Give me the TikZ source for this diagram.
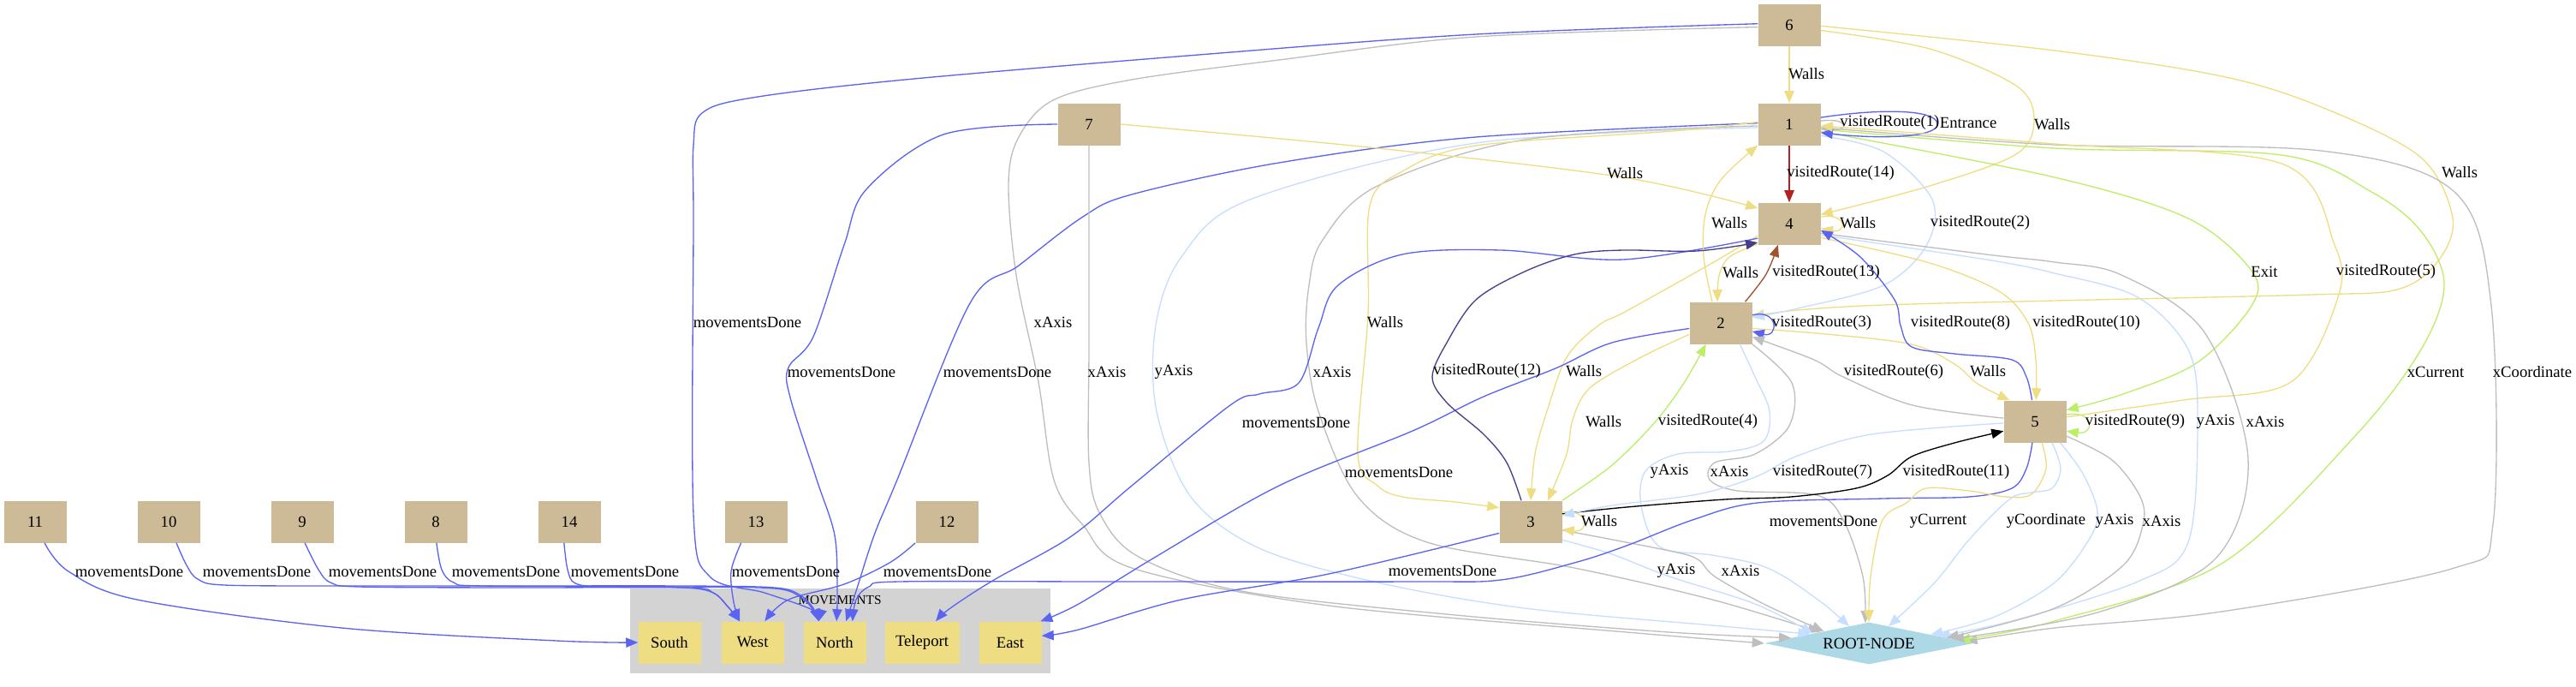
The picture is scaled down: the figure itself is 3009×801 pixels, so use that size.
\documentclass[tikz,border=0pt]{standalone}
\usepackage{fontspec}
\setmainfont{Liberation Serif}
\usetikzlibrary{arrows.meta,shapes.geometric}
\definecolor{tanN}{RGB}{205,187,151}
\definecolor{khakiN}{RGB}{238,221,130}
\definecolor{blueC}{RGB}{90,100,240}
\definecolor{greyC}{RGB}{190,190,190}
\definecolor{lblueC}{RGB}{198,222,255}
\definecolor{greenC}{RGB}{188,238,104}
\definecolor{dsbC}{RGB}{72,61,139}
\definecolor{siennaC}{RGB}{160,82,45}
\definecolor{fireC}{RGB}{178,34,34}
\definecolor{rootC}{RGB}{173,216,230}
\definecolor{clusterC}{RGB}{211,211,211}
\tikzset{
  posn/.style={fill=tanN, minimum width=54.75pt, minimum height=36.75pt, inner sep=0pt},
  mv/.style={fill=khakiN, minimum width=54.75pt, minimum height=36.75pt, inner sep=0pt},
  lbl/.style={inner sep=0pt},
  edg/.style={line width=1pt, -{Triangle[length=10.5pt,width=8.5pt]}},
  eW/.style={edg, color=khakiN},
  eB/.style={edg, color=blueC},
  eGy/.style={edg, color=greyC},
  eLb/.style={edg, color=lblueC},
  eGn/.style={edg, color=greenC},
  eDs/.style={edg, color=dsbC},
  eSi/.style={edg, color=siennaC},
  eFr/.style={edg, color=fireC},
  eBk/.style={edg, color=black},
  smth/.style={smooth, tension=0.55}
}
\begin{document}
\begin{tikzpicture}[x=0.75pt,y=-0.75pt,font=\fontsize{14}{16}\selectfont]
\useasboundingbox (0,0) rectangle (3009,801);
% cluster
\fill[clusterC] (736,687) rectangle (1227,786);
\node[lbl,font=\fontsize{11.5}{13}\selectfont] (cl) at (981,701) {MOVEMENTS};
% nodes
\node[posn] (n6) at (2090,29) {6};
\node[posn] (n1) at (2090,145) {1};
\node[posn] (n7) at (1272,145) {7};
\node[posn] (n4) at (2090,261) {4};
\node[posn] (n2) at (2010,377) {2};
\node[posn] (n5) at (2377,492) {5};
\node[posn] (n3) at (1788,609) {3};
\node[posn] (n11) at (41,609) {11};
\node[posn] (n10) at (197,609) {10};
\node[posn] (n9) at (353,609) {9};
\node[posn] (n8) at (509,609) {8};
\node[posn] (n14) at (665,609) {14};
\node[posn] (n13) at (883,609) {13};
\node[posn] (n12) at (1106,609) {12};
\node[mv] (South) at (782,750) {South};
\node[mv] (West) at (879,750) {West};
\node[mv] (North) at (975,750) {North};
\node[mv,minimum width=65.25pt] (Tele) at (1077,750) {Teleport};
\node[mv] (East) at (1180,750) {East};
\node[diamond,aspect=5,fill=rootC,minimum width=183pt,minimum height=36.75pt,inner sep=0pt] (root) at (2183,751) {ROOT-NODE};

% ---- edges from 6
\draw[eW] (n6) -- (n1);
\draw[eW] plot[smth] coordinates {(n6.-10) (2254,57) (2355,100) (2376,140) (2355,180) (2254,217) (n4.16)};
\draw[eW] plot[smth] coordinates {(n6.-2) (2400,59) (2600,90) (2719,128) (2828,184) (2865,255) (2847,306) (2800,338) (2700,344) (2400,351) (2200,356) (2100,362) (n2.12)};
\draw[eB] plot[smth] coordinates {(n6.178) (1724,40) (1400,64) (1057,93) (879,114) (820,132) (810,170) (810,260) (810,600) (829,673) (893,692) (949,712) (North.127)};
\draw[eGy] plot[smth] coordinates {(n6.184) (1724,43) (1494,70) (1322,93) (1230,117) (1190,160) (1178,214) (1187,321) (1213,446) (1231,560) (1265,613) (1322,663) (1552,707) (1900,738) (root.west)};
% ---- edges from 1
\draw[eFr] (n1) -- (n4);
\draw[eB] plot[smth] coordinates {(n1.178) (1724,160) (1494,190) (1322,227) (1265,253) (1190,310) (1133,354) (1048,560) (1021,625) (1000,690) (North.62)};
\draw[eLb] plot[smth] coordinates {(n1.186) (1724,167) (1460,233) (1380,300) (1350,380) (1351,480) (1391,580) (1471,640) (1609,680) (1781,710) (2000,730) (root.171)};
\draw[eGy] plot[smth] coordinates {(n1.183) (1781,163) (1609,217) (1545,280) (1529,333) (1526,400) (1540,480) (1586,580) (1667,633) (1839,663) (2000,700) (root.167)};
\draw[eW] plot[smth] coordinates {(n1.176) (1954,153) (1724,170) (1638,200) (1600,240) (1598,367) (1586,530) (1609,567) (1638,580) (1700,586) (n3.156)};
\draw[eGy] plot[smth] coordinates {(n1.-6) (2400,169) (2711,176) (2867,224) (2910,357) (2912,612) (2867,663) (2595,714) (2400,733) (root.1)};
\draw[eGn] plot[smth] coordinates {(n1.-9) (2400,173) (2665,181) (2770,224) (2828,270) (2855,332) (2828,408) (2750,510) (2595,658) (2400,725) (root.2)};
\draw[eGn] plot[smth] coordinates {(n1.-13) (2400,207) (2556,255) (2630,316) (2630,357) (2567,423) (2480,460) (n5.20)};
\draw[eLb] plot[smth] coordinates {(n1.-20) (2200,177) (2257,233) (2250,287) (2200,333) (2100,360) (n2.10)};
\draw[eGy] (n1.6) .. controls (2160,137) and (2160,153) .. (n1.-8);
\draw[eB] (n1.12) .. controls (2200,126) and (2263,128) .. (2263,145) .. controls (2263,160) and (2200,163) .. (n1.-15);
% ---- 5 -> 1
\draw[eW] plot[smth] coordinates {(n5.8) (2550,467) (2676,446) (2731,347) (2727,286) (2665,191) (2400,168) (n1.-3)};
% ---- edges from 7
\draw[eB] plot[smth] coordinates {(n7.west) (1102,157) (1012,221) (986,286) (950,393) (921,429) (923,464) (954,560) (975,625) (978,690) (North.85)};
\draw[eW] plot[smth] coordinates {(n7.east) (1609,173) (1896,207) (n4.154)};
\draw[eGy] plot[smth] coordinates {(n7.south) (1272,400) (1272,540) (1285,600) (1330,650) (1450,690) (1700,718) (1950,738) (root.176)};
% ---- edges from 4
\draw[eLb] plot[smth] coordinates {(n4.-20) (2320,303) (2400,319) (2497,347) (2556,408) (2567,490) (2556,633) (2497,679) (2350,725) (root.6)};
\draw[eGy] plot[smth] coordinates {(n4.-17) (2320,297) (2400,306) (2478,321) (2575,388) (2626,536) (2587,653) (2450,715) (root.3)};
\draw[eW] plot[smth] coordinates {(n4.-24) (2254,307) (2335,340) (2369,377) (2378,420) (n5.87)};
\draw[eW] plot[smth] coordinates {(n4.201) (2000,307) (1900,363) (1867,380) (1830,417) (1807,480) (1793,530) (n3.north)};
\draw[eW] plot[smth] coordinates {(n4.213) (2020,300) (2008,322) (n2.99)};
\draw[eB] plot[smth] coordinates {(n4.205) (1896,303) (1753,292) (1638,297) (1563,333) (1540,383) (1517,447) (1471,460) (1437,473) (1322,567) (1250,627) (1161,677) (1110,710) (Tele.57)};
\draw[eW] (n4.12) .. controls (2158,248) and (2158,273) .. (n4.-9);
% ---- edges from 2
\draw[eW] plot[smth] coordinates {(n2.112) (1990,300) (1992,250) (2010,210) (n1.south west)};
\draw[eSi] plot[smth] coordinates {(n2.41) (2063,320) (n4.-118)};
\draw[eB] plot[smth] coordinates {(n2.190) (1883,400) (1817,430) (1733,463) (1650,503) (1494,567) (1350,650) (1260,705) (East.35)};
\draw[eW] plot[smth] coordinates {(n2.200) (1917,417) (1857,453) (1837,490) (1830,530) (n3.51)};
\draw[eW] plot[smth] coordinates {(n2.-10) (2133,390) (2233,402) (2283,425) (2310,448) (n5.140)};
\draw[eLb] plot[smth] coordinates {(n2.-48) (2050,440) (2067,480) (2060,515) (2020,527) (1960,530) (1922,550) (1917,590) (1938,638) (2000,648) (2050,658) (2084,673) (2130,705) (root.139)};
\draw[eGy] plot[smth] coordinates {(n2.-34) (2093,447) (2090,497) (2050,530) (2003,540) (1997,560) (2030,573) (2122,578) (2153,607) (2176,673) (root.100)};
\draw[eB] (n2.14) .. controls (2078,360) and (2078,395) .. (n2.-15);
% ---- edges from 3
\draw[eDs] plot[smth] coordinates {(n3.114) (1760,540) (1733,507) (1690,470) (1673,440) (1690,400) (1724,350) (1781,317) (1839,297) (1896,292) (1982,293) (n4.211)};
\draw[eGn] plot[smth] coordinates {(n3.north east) (1883,543) (1933,493) (1967,447) (n2.-125)};
\draw[eBk] plot[smth] coordinates {(n3.14) (1900,592) (2015,583) (2092,580) (2168,570) (2205,555) (2233,533) (2283,517) (n5.197)};
\draw[eB] plot[smth] coordinates {(n3.200) (1552,670) (1380,700) (1260,735) (East.12)};
\draw[eLb] plot[smth] coordinates {(n3.-30) (1883,647) (1950,673) (2050,705) (root.170)};
\draw[eGy] plot[smth] coordinates {(n3.-15) (1950,643) (1983,653) (2003,673) (2060,705) (root.165)};
\draw[eW] (n3.17) .. controls (1857,594) and (1857,622) .. (n3.-14);
% ---- edges from 5
\draw[eB] plot[smth] coordinates {(n5.98) (2367,440) (2350,420) (2283,413) (2233,405) (2220,380) (2213,350) (2173,300) (n4.-12)};
\draw[eGy] plot[smth] coordinates {(n5.174) (2234,473) (2153,440) (2119,420) (n2.-24)};
\draw[eLb] plot[smth] coordinates {(n5.183) (2186,507) (2100,532) (2050,557) (1983,577) (1883,590) (n3.11)};
\draw[eB] plot[smth] coordinates {(n5.-97) (2367,547) (2350,570) (2300,580) (2200,582) (2053,587) (1977,607) (1900,637) (1839,657) (1753,677) (1650,679) (1300,679) (1050,679) (1015,685) (1000,700) (North.50)};
\draw[eW] plot[smth] coordinates {(n5.-72) (2390,547) (2373,577) (2343,580) (2300,573) (2250,570) (2227,587) (2199,607) (2185,673) (root.north)};
\draw[eLb] plot[smth] coordinates {(n5.-51) (2407,547) (2397,570) (2373,575) (2347,583) (2300,630) (2260,680) (root.41)};
\draw[eLb] plot[smth] coordinates {(n5.-40) (2433,553) (2450,597) (2440,630) (2400,680) (2330,720) (root.8)};
\draw[eGy] plot[smth] coordinates {(n5.-25) (2467,537) (2500,580) (2503,613) (2480,660) (2400,710) (root.4)};
\draw[eGn] (n5.12) .. controls (2447,478) and (2447,508) .. (n5.-17);
% ---- bottom row
\draw[eB] plot[smth] coordinates {(n11.-66) (80,667) (160,700) (399,733) (650,748) (South.west)};
\draw[eB] plot[smth] coordinates {(n10.-70) (218,660) (231,676) (262,683) (400,684) (600,684) (800,684) (905,686) (935,695) (950,710) (North.127)};
\draw[eB] plot[smth] coordinates {(n9.-83) (372,665) (386,680) (420,685) (600,686) (800,686) (833,692) (850,708) (West.121)};
\draw[eB] plot[smth] coordinates {(n8.-88) (516,665) (530,680) (565,684) (800,685) (905,687) (935,697) (950,712) (North.127)};
\draw[eB] plot[smth] coordinates {(n14.-104) (663,665) (672,681) (705,685) (800,686) (833,692) (850,708) (West.121)};
\draw[eB] plot[smth] coordinates {(n13.-125) (854,667) (857,703) (West.121)};
\draw[eB] plot[smth] coordinates {(n12.south west) (1039,657) (986,682) (921,700) (West.60)};

% ---- labels
\node[lbl] (L1) at (2110,86) {Walls};
\node[lbl] (L2) at (2397,145) {Walls};
\node[lbl] (L3) at (2873,201) {Walls};
\node[lbl] (L4) at (873,376) {movementsDone};
\node[lbl] (L5) at (1230,376) {xAxis};
\node[lbl] (L6) at (2150,202) {visitedRoute(14)};
\node[lbl] (L7) at (1165,434) {movementsDone};
\node[lbl] (L8) at (1371,434) {yAxis};
\node[lbl] (L9) at (1556,434) {xAxis};
\node[lbl] (L10) at (1618,376) {Walls};
\node[lbl] (L11) at (2958,434) {xCoordinate};
\node[lbl] (L12) at (2845,434) {xCurrent};
\node[lbl] (L13) at (2645,317) {Exit};
\node[lbl] (L14) at (2787,317) {visitedRoute(5)};
\node[lbl] (L15) at (2313,260) {visitedRoute(2)};
\node[lbl,anchor=west] (L16) at (2149,143) {visitedRoute(1)};
\node[lbl,anchor=west] (L17) at (L16.east) {Entrance};
\node[lbl] (L18) at (983,434) {movementsDone};
\node[lbl] (L19) at (1898,202) {Walls};
\node[lbl] (L20) at (1293,434) {xAxis};
\node[lbl] (L21) at (2588,492) {yAxis};
\node[lbl] (L22) at (2646,492) {xAxis};
\node[lbl] (L23) at (2437,377) {visitedRoute(10)};
\node[lbl] (L24) at (1850,433) {Walls};
\node[lbl] (L25) at (2033,318) {Walls};
\node[lbl] (L26) at (1514,493) {movementsDone};
\node[lbl] (L27) at (2170,260) {Walls};
\node[lbl] (L28) at (2020,260) {Walls};
\node[lbl] (L29) at (2133,318) {visitedRoute(13)};
\node[lbl] (L30) at (1634,551) {movementsDone};
\node[lbl] (L31) at (1873,492) {Walls};
\node[lbl] (L32) at (2322,433) {Walls};
\node[lbl] (L33) at (1950,550) {yAxis};
\node[lbl] (L34) at (2020,550) {xAxis};
\node[lbl] (L35) at (2128,377) {visitedRoute(3)};
\node[lbl] (L36) at (1737,433) {visitedRoute(12)};
\node[lbl] (L37) at (1995,492) {visitedRoute(4)};
\node[lbl] (L38) at (2285,551) {visitedRoute(11)};
\node[lbl] (L39) at (1685,666) {movementsDone};
\node[lbl] (L40) at (1958,666) {yAxis};
\node[lbl] (L41) at (2033,666) {xAxis};
\node[lbl] (L42) at (1868,608) {Walls};
\node[lbl] (L43) at (2290,377) {visitedRoute(8)};
\node[lbl] (L44) at (2212,434) {visitedRoute(6)};
\node[lbl] (L45) at (2129,551) {visitedRoute(7)};
\node[lbl] (L46) at (2130,608) {movementsDone};
\node[lbl] (L47) at (2264,608) {yCurrent};
\node[lbl] (L48) at (2390,608) {yCoordinate};
\node[lbl] (L49) at (2470,608) {yAxis};
\node[lbl] (L50) at (2525,608) {xAxis};
\node[lbl] (L51) at (2494,492) {visitedRoute(9)};
\node[lbl] (L52) at (151,667) {movementsDone};
\node[lbl] (L53) at (300,667) {movementsDone};
\node[lbl] (L54) at (447,667) {movementsDone};
\node[lbl] (L55) at (591,667) {movementsDone};
\node[lbl] (L56) at (730,667) {movementsDone};
\node[lbl] (L57) at (918,667) {movementsDone};
\node[lbl] (L58) at (1095,667) {movementsDone};
\end{tikzpicture}
\end{document}
